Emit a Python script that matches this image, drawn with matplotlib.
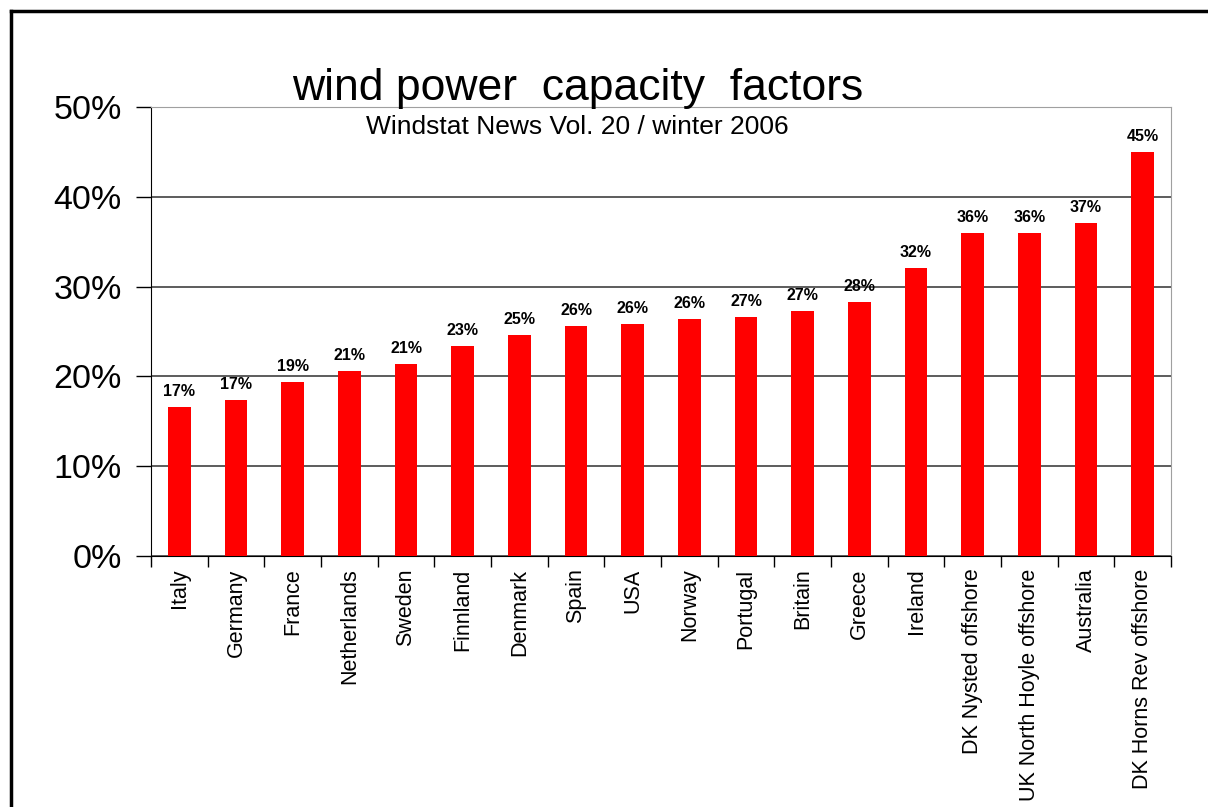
import matplotlib
matplotlib.use("Agg")
import matplotlib.pyplot as plt
from matplotlib.lines import Line2D
from matplotlib.ticker import FuncFormatter, FixedLocator

countries = ["Italy", "Germany", "France", "Netherlands", "Sweden", "Finnland",
             "Denmark", "Spain", "USA", "Norway", "Portugal", "Britain", "Greece",
             "Ireland", "DK Nysted offshore", "UK North Hoyle offshore",
             "Australia", "DK Horns Rev offshore"]
capacity = [16.6, 17.4, 19.4, 20.6, 21.4, 23.4, 24.6, 25.6, 25.8, 26.4, 26.6,
            27.3, 28.3, 32.1, 36.0, 36.0, 37.1, 45.0]
yticks = [0, 10, 20, 30, 40, 50]

plt.rcParams["font.family"] = ["Liberation Sans", "DejaVu Sans"]

fig = plt.figure(figsize=(12.08, 8.07), dpi=100)
ax = fig.add_axes([0.125, 0.311, 0.8444, 0.5564])

x = list(range(len(countries)))
ax.bar(x, capacity, width=0.4, color="#ff0000", zorder=3)
for xi, v in zip(x, capacity):
    ax.text(xi, v + 0.9, "%d%%" % round(v), ha="center", va="bottom",
            fontsize=11.5, fontweight="bold",
            family=["Liberation Sans Narrow", "Liberation Sans"])

ax.set_xlim(-0.5, len(countries) - 0.5)
ax.set_ylim(0, 50)
ax.set_yticks(yticks)
ax.yaxis.set_major_formatter(FuncFormatter(lambda v, p: "%d%%" % v))
ax.tick_params(axis="y", labelsize=24.5, length=11, width=1, direction="out", pad=10)
ax.yaxis.grid(True, color="#303030", linewidth=1.1, zorder=0)

# category labels at bar centres, tick marks between bars
ax.set_xticks(x)
ax.set_xticklabels(countries, rotation=90, fontsize=15.5)
ax.tick_params(axis="x", which="major", length=0, pad=9)
ax.xaxis.set_minor_locator(FixedLocator([i - 0.5 for i in range(len(countries) + 1)]))
ax.tick_params(axis="x", which="minor", length=8, width=1, direction="out")

for s in ("top", "right"):
    ax.spines[s].set_color("#a0a0a0")
for s in ("left", "bottom"):
    ax.spines[s].set_color("black")
ax.set_axisbelow(True)

fig.text(0.478, 0.834, "Windstat News Vol. 20 / winter 2006",
         ha="center", va="baseline", fontsize=19)
fig.text(0.478, 0.876, "wind power  capacity  factors", ha="center",
         va="baseline", fontsize=32)

# outer frame
fig.add_artist(Line2D([0.0091, 1.0], [0.9864, 0.9864], color="black", linewidth=2.5))
fig.add_artist(Line2D([0.0091, 0.0091], [0.0, 0.9864], color="black", linewidth=2.5))

fig.savefig("out.png", dpi=100)
